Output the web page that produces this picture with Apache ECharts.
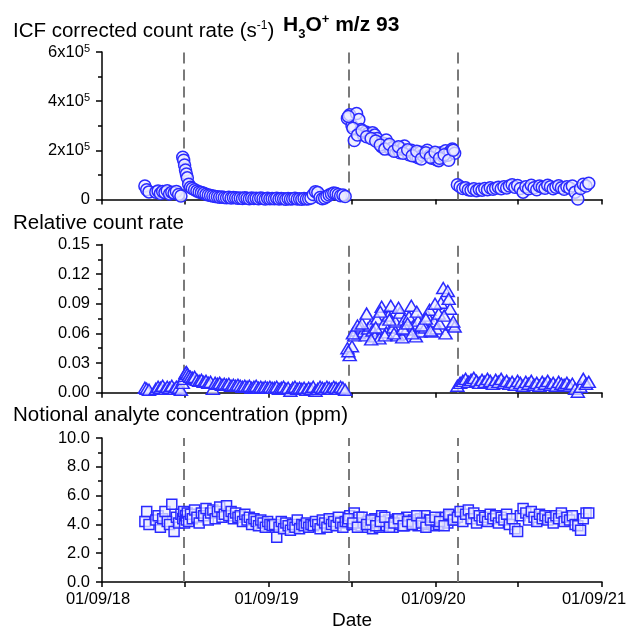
<!DOCTYPE html>
<html><head><meta charset="utf-8">
<script src="https://cdn.jsdelivr.net/npm/echarts@6/dist/echarts.min.js"></script>
<style>html,body{margin:0;padding:0;background:#fff}#c{width:631px;height:631px}</style>
</head><body><div id="c"></div>
<script>
// ---- data ----
const startDate = '2018-09-01';
// sample dates, as days after startDate
const sampleDays = [
  94, 98, 103, 118, 123, 128, 133, 138, 143, 148, 153, 158, 163, 168, 173,
  177, 179, 181, 183, 185, 187, 190, 194, 198, 203, 208, 213, 218,
  223, 228, 233, 238, 243, 248, 253, 258, 263, 268, 273, 278, 283, 288, 293, 298,
  303, 308, 313, 318, 323, 328, 333, 338, 343, 348, 353, 358, 363, 368, 373,
  378, 383, 388, 393, 398, 403, 408, 413, 418, 423, 428, 433, 438, 443, 448, 453, 458,
  463, 468, 473, 478, 483, 488, 493, 498, 503, 508, 513, 518, 523, 528, 533,
  538, 543, 548, 553, 558, 563, 568, 573, 578, 583, 588, 593, 598, 603, 608, 613, 618, 623, 628, 633,
  638, 643, 648, 653, 658, 663, 668, 673, 678, 683, 688, 693, 698, 703, 708, 713, 718, 723, 728, 733,
  738, 743, 748, 753, 758, 763, 768, 773,
  540, 550, 560, 570, 580, 590, 600, 610, 620, 630, 640, 650, 660, 670, 680, 690, 700, 710, 720, 730,
  740, 750, 760, 770,
  779, 785, 791, 797, 803, 809, 815, 821, 827, 833, 839, 845, 851, 857, 863, 869, 875, 881, 887, 893,
  899, 905, 911, 917, 923, 929, 935, 941, 947, 953, 959, 965, 971, 977, 983, 989, 995, 1001, 1007, 1013,
  1019, 1025, 1031, 1037, 1043, 1049, 1055, 1061, 1067
];
const icfRate = [
  55000, 40000, 31000, 30000, 35000, 24000, 33000, 28000, 36000, 22000, 30000, 26000, 33000, 20000, 14000,
  172000, 160000, 140000, 120000, 104000, 88000, 62000, 50000, 45000, 40000, 35000, 31000, 28000,
  25000, 21000, 18000, 16000, 14000, 12000, 11000, 9000, 10000, 8000, 7000, 9000, 6000, 8000, 7000, 5000,
  6000, 4000, 7000, 5000, 3000, 6000, 4000, 5000, 3000, 6000, 4000, 2000, 5000, 3000, 4000,
  3000, 5000, 2000, 4000, 3000, 1000, 4000, 2000, 3000, 5000, 2000, 3000, 1000, 4000, 2000, 3000, 6000,
  20000, 32000, 28000, 8000, 3000, 6000, 12000, 18000, 22000, 26000, 24000, 20000, 15000, 18000, 12000,
  330000, 345000, 300000, 240000, 350000, 325000, 285000, 262000, 275000, 268000, 258000, 272000, 262000, 248000, 232000, 215000, 228000, 242000, 220000, 205000,
  212000, 198000, 208000, 190000, 205000, 218000, 195000, 182000, 200000, 188000, 175000, 170000, 192000, 180000, 187000, 200000, 178000, 168000, 185000, 162000,
  158000, 190000, 175000, 198000, 180000, 195000, 205000, 188000,
  338000, 290000, 262000, 280000, 255000, 248000, 238000, 222000, 205000, 225000, 196000, 215000, 188000, 202000, 178000, 196000, 165000, 190000, 172000, 192000,
  168000, 182000, 160000, 200000,
  60000, 52000, 45000, 48000, 40000, 38000, 44000, 36000, 42000, 38000, 45000, 40000, 48000, 42000, 46000, 50000, 44000, 52000, 47000, 55000,
  60000, 50000, 57000, 45000, 30000, 52000, 44000, 58000, 48000, 40000, 55000, 50000, 46000, 58000, 52000, 44000, 50000, 56000, 48000, 42000,
  52000, 47000, 55000, 30000, 2000, 45000, 62000, 55000, 66000
];
const relRate = [
  0.005, 0.004, 0.003, 0.004, 0.006, 0.005, 0.007, 0.004, 0.006, 0.005, 0.007, 0.004, 0.006, 0.005, 0.003,
  0.010, 0.014, 0.017, 0.020, 0.021, 0.019, 0.017, 0.016, 0.015, 0.016, 0.013, 0.012, 0.013,
  0.011, 0.012, 0.010, 0.011, 0.004, 0.010, 0.009, 0.010, 0.008, 0.009, 0.008, 0.009, 0.007, 0.008, 0.007, 0.008,
  0.007, 0.006, 0.007, 0.006, 0.007, 0.005, 0.006, 0.007, 0.005, 0.006, 0.005, 0.006, 0.005, 0.006, 0.005,
  0.005, 0.006, 0.004, 0.005, 0.006, 0.004, 0.005, 0.002, 0.005, 0.006, 0.004, 0.005, 0.004, 0.005, 0.003, 0.005, 0.004,
  0.006, 0.002, 0.004, 0.006, 0.005, 0.004, 0.006, 0.005, 0.004, 0.006, 0.005, 0.004, 0.006, 0.005, 0.003,
  0.045, 0.038, 0.047, 0.058, 0.063, 0.060, 0.066, 0.062, 0.058, 0.065, 0.068, 0.063, 0.057, 0.075, 0.055, 0.087, 0.070, 0.061, 0.078, 0.088,
  0.066, 0.072, 0.058, 0.081, 0.056, 0.074, 0.064, 0.077, 0.088, 0.068, 0.057, 0.073, 0.062, 0.070, 0.066, 0.078, 0.084, 0.062, 0.072, 0.065,
  0.080, 0.091, 0.106, 0.060, 0.103, 0.085, 0.069, 0.067,
  0.042, 0.060, 0.068, 0.070, 0.080, 0.054, 0.066, 0.082, 0.058, 0.074, 0.060, 0.086, 0.065, 0.070, 0.060, 0.082, 0.068, 0.075, 0.063, 0.090,
  0.070, 0.078, 0.095, 0.072,
  0.007, 0.010, 0.012, 0.014, 0.011, 0.013, 0.015, 0.012, 0.010, 0.013, 0.011, 0.014, 0.012, 0.009, 0.013, 0.011, 0.014, 0.010, 0.012, 0.009,
  0.011, 0.008, 0.012, 0.010, 0.007, 0.011, 0.009, 0.012, 0.008, 0.010, 0.007, 0.011, 0.009, 0.012, 0.008, 0.010, 0.007, 0.011, 0.009, 0.008,
  0.010, 0.007, 0.009, 0.004, 0.001, 0.006, 0.014, 0.009, 0.011
];
const concPpm = [
  4.2, 4.9, 4.0, 4.3, 4.6, 3.8, 4.4, 4.9, 4.2, 4.0, 5.4, 3.5, 4.5, 4.1, 4.7,
  4.4, 4.9, 4.1, 4.6, 4.3, 4.8, 4.2, 4.7, 4.4, 5.0, 4.5, 4.1, 4.8,
  4.6, 5.1, 4.3, 4.8, 5.0, 4.4, 4.9, 5.2, 4.5, 4.7, 5.3, 4.6, 4.9, 4.4, 4.8, 4.5,
  4.6, 4.2, 4.7, 4.3, 4.5, 4.0, 4.4, 4.2, 3.9, 4.3, 4.1, 3.8, 4.2, 4.0, 3.9,
  4.0, 3.1, 3.8, 4.2, 3.7, 4.1, 3.9, 3.6, 4.0, 3.8, 4.3, 3.7, 4.0, 3.9, 4.1, 3.8, 4.0,
  3.9, 4.2, 4.0, 3.7, 4.3, 4.1, 3.8, 4.4, 4.0, 4.2, 3.9, 4.5, 4.1, 3.8, 4.2,
  4.2, 4.6, 4.0, 4.8, 4.3, 4.5, 3.9, 4.1, 3.8, 4.2, 4.0, 3.7, 4.4, 4.1, 3.8, 4.6, 4.0, 3.9, 4.3, 4.1,
  3.8, 4.2, 4.4, 4.0, 4.3, 3.9, 4.5, 4.2, 4.0, 4.3, 4.1, 3.9, 4.4, 4.2, 4.6, 4.0, 4.3, 4.1, 3.9, 4.2,
  4.0, 4.4, 4.2, 4.5, 4.1, 4.6, 4.3, 4.4,
  4.4, 4.1, 3.8, 4.5, 4.0, 4.3, 3.9, 4.2, 4.5, 3.8, 4.1, 4.4, 3.9, 4.2, 4.0, 4.6, 4.1, 3.8, 4.3, 4.5,
  4.2, 3.9, 4.7, 4.3,
  4.5, 4.9, 4.2, 4.7, 5.0, 4.4, 4.8, 4.1, 4.6, 4.3, 4.5, 4.2, 4.7, 4.4, 4.6, 4.1, 4.5, 4.3, 4.7, 4.0,
  4.4, 3.7, 3.5, 4.6, 5.1, 4.8, 4.3, 4.9, 4.5, 4.2, 4.7, 4.4, 4.6, 4.3, 4.5, 4.1, 4.6, 4.4, 4.8, 4.2,
  4.5, 4.3, 4.6, 4.0, 3.9, 3.6, 4.4, 4.8, 4.8
];
const eventDays = [179, 541, 779];
const xTickDates = ['2018-09-01', '2019-03-01', '2019-09-01', '2020-03-01', '2020-09-01', '2021-03-01', '2021-09-01'];
const xLabelDates = ['2018-09-01', '2019-09-01', '2020-09-01', '2021-09-01'];
const xLabels = ['01/09/18', '01/09/19', '01/09/20', '01/09/21'];
const icfTicks = [0, 200000, 400000, 600000];
const relTicks = [0, 0.03, 0.06, 0.09, 0.12, 0.15];
const concTicks = [0, 2, 4, 6, 8, 10];

// ---- chart ----
const DAY = 86400000;
const toMs = s => Date.parse(s + 'T00:00:00Z');
const t0 = toMs(startDate);
const dayMs = d => t0 + d * DAY;
const xMin = toMs(xLabelDates[0]), xMax = toMs(xLabelDates[xLabelDates.length - 1]);
const FONT = 'Liberation Sans';
const BLUE = '#2a2aff';

const grids = [
  {left: 102, right: 29, top: 52, height: 147.5},
  {left: 102, right: 29, top: 244.5, height: 148.2},
  {left: 102, right: 29, top: 438, height: 148}
];

function xAxisFor(i, withLabels) {
  const ax = {
    type: 'value', gridIndex: i, min: xMin, max: xMax,
    axisLine: {show: true, onZero: false, lineStyle: {color: '#000', width: 1.5}},
    axisTick: {show: true, inside: false, length: 5, lineStyle: {color: '#000', width: 1.5},
      customValues: xTickDates.map(toMs)},
    splitLine: {show: false},
    axisLabel: {show: false}
  };
  if (withLabels) {
    ax.axisLabel = {
      show: true, customValues: xLabelDates.map(toMs), margin: 9,
      fontFamily: FONT, fontSize: 16.5, color: '#000',
      formatter: v => {
        const idx = xLabelDates.map(toMs).indexOf(v);
        const t = xLabels[idx];
        if (idx === 0) return '{l|' + t + '}';
        if (idx === xLabels.length - 1) return '{r|' + t + '}';
        return '{m|' + t + '}';
      },
      rich: {
        l: {fontFamily: FONT, fontSize: 16.5, padding: [0, 8, 0, 0]},
        m: {fontFamily: FONT, fontSize: 16.5, padding: [0, 4, 0, 0]},
        r: {fontFamily: FONT, fontSize: 16.5, padding: [0, 16, 0, 0]}
      }
    };
    ax.name = 'Date';
    ax.nameLocation = 'middle';
    ax.nameGap = 29;
    ax.nameTextStyle = {fontFamily: FONT, fontSize: 19, color: '#000'};
  }
  return ax;
}

function yAxisFor(i, ticks, formatter, rich) {
  return {
    type: 'value', gridIndex: i, min: ticks[0], max: ticks[ticks.length - 1],
    interval: ticks[1] - ticks[0],
    axisLine: {show: true, lineStyle: {color: '#000', width: 1.5}},
    axisTick: {show: true, inside: false, length: 6, lineStyle: {color: '#000', width: 1.5}},
    minorTick: {show: true, splitNumber: 2, length: 4, lineStyle: {color: '#000', width: 1.5}},
    splitLine: {show: false},
    axisLabel: {show: true, margin: 12, fontFamily: FONT, fontSize: 16.5, color: '#000', formatter, rich}
  };
}

const supRich = {
  m: {fontFamily: FONT, fontSize: 16.5, color: '#000', lineHeight: 18, verticalAlign: 'middle'},
  s: {fontFamily: FONT, fontSize: 11, color: '#000', lineHeight: 14, verticalAlign: 'top'}
};

const eventLine = {
  silent: true, symbol: 'none', z: 1, animation: false,
  label: {show: false},
  lineStyle: {color: '#7a7a7a', type: [11, 6], width: 2},
  data: eventDays.map(d => ({xAxis: dayMs(d)}))
};

function scatter(i, values, symbol, size) {
  return {
    type: 'scatter', xAxisIndex: i, yAxisIndex: i, symbol, symbolSize: size, z: 3,
    itemStyle: {color: 'rgba(236,236,255,0.72)', borderColor: BLUE, borderWidth: 1.5, opacity: 1},
    data: sampleDays.map((d, k) => [dayMs(d), values[k]]),
    markLine: eventLine
  };
}

const base = {fontFamily: FONT, color: '#000'};
const option = {
  animation: false,
  backgroundColor: '#fff',
  title: [
    {left: 13, top: 20, padding: 0, text: '{a|ICF corrected count rate (s}{s|-1}{a|)}',
      textStyle: {fontWeight: 'normal', rich: {
        a: Object.assign({fontSize: 20.5, fontWeight: 'normal', lineHeight: 22, verticalAlign: 'bottom'}, base),
        s: Object.assign({fontSize: 12, fontWeight: 'normal', lineHeight: 15, verticalAlign: 'top'}, base)
      }}},
    {left: 283, top: 13, padding: 0, text: '{b|H}{d|3}{b|O}{u|+}{b| m/z 93}',
      textStyle: {rich: {
        b: Object.assign({fontSize: 21, fontWeight: 'bold', lineHeight: 24, verticalAlign: 'middle'}, base),
        d: Object.assign({fontSize: 13, fontWeight: 'bold', lineHeight: 14, verticalAlign: 'bottom', padding: [0, 0, -4, 0]}, base),
        u: Object.assign({fontSize: 13, fontWeight: 'bold', lineHeight: 14, verticalAlign: 'top'}, base)
      }}},
    {left: 13, top: 212, padding: 0, text: 'Relative count rate',
      textStyle: Object.assign({fontSize: 20.5, lineHeight: 22, fontWeight: 'normal'}, base)},
    {left: 13, top: 404, padding: 0, text: 'Notional analyte concentration (ppm)',
      textStyle: Object.assign({fontSize: 20.5, lineHeight: 22, fontWeight: 'normal'}, base)}
  ],
  grid: grids,
  xAxis: [xAxisFor(0, false), xAxisFor(1, false), xAxisFor(2, true)],
  yAxis: [
    yAxisFor(0, icfTicks, v => v === 0 ? '{m|0}' : '{m|' + (v / 100000) + 'x10}{s|5}', supRich),
    yAxisFor(1, relTicks, v => v.toFixed(2)),
    yAxisFor(2, concTicks, v => v.toFixed(1))
  ],
  series: [
    scatter(0, icfRate, 'circle', 12),
    scatter(1, relRate, 'triangle', [13, 11]),
    scatter(2, concPpm, 'rect', 10)
  ]
};

const chart = echarts.init(document.getElementById('c'), null, {renderer: 'canvas'});
chart.setOption(option);
</script>
</body></html>
